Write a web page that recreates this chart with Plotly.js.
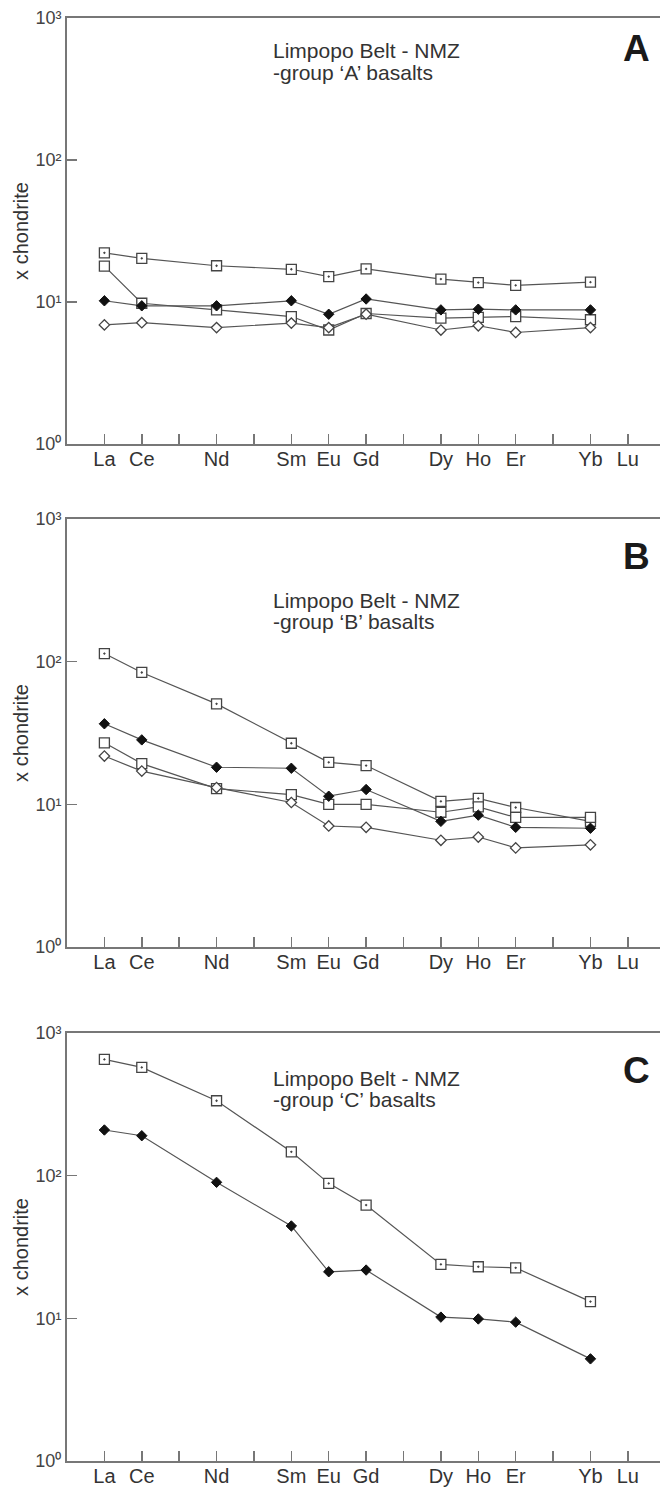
<!DOCTYPE html>
<html>
<head>
<meta charset="utf-8">
<script src="https://cdn.plot.ly/plotly-3.0.1.min.js"></script>
<style>html,body{margin:0;padding:0;background:#fff;}#chart{width:660px;height:1488px;}</style>
</head>
<body>
<div id="chart"></div>
<script>
// ---- DATA ----
const elements = ['La','Ce','Pr','Nd','Pm','Sm','Eu','Gd','Tb','Dy','Ho','Er','Tm','Yb','Lu'];
const labelled = ['La','Ce','Nd','Sm','Eu','Gd','Dy','Ho','Er','Yb','Lu'];
const measured = ['La','Ce','Nd','Sm','Eu','Gd','Dy','Ho','Er','Yb'];

// Panel A - group 'A' basalts
const aDotSquare     = [22.2, 20.3, 18.0, 17.0, 15.1, 17.1, 14.5, 13.7, 13.1, 13.8];
const aOpenSquare    = [17.9, 9.8, 8.8, 7.9, 6.35, 8.3, 7.7, 7.8, 7.9, 7.5];
const aFilledDiamond = [10.2, 9.4, 9.4, 10.2, 8.2, 10.5, 8.8, 8.9, 8.8, 8.8];
const aOpenDiamond   = [6.9, 7.15, 6.6, 7.1, 6.6, 8.2, 6.35, 6.8, 6.1, 6.6];

// Panel B - group 'B' basalts
const bDotSquare     = [114, 84, 50.6, 26.8, 19.7, 18.7, 10.5, 11.0, 9.5, 7.6];
const bOpenSquare    = [27.0, 19.3, 12.9, 11.7, 10.0, 10.0, 8.8, 9.6, 8.1, 8.1];
const bFilledDiamond = [36.7, 28.3, 18.2, 17.9, 11.4, 12.7, 7.6, 8.4, 6.9, 6.8];
const bOpenDiamond   = [21.8, 17.1, 13.1, 10.3, 7.05, 6.9, 5.6, 5.9, 4.95, 5.2];

// Panel C - group 'C' basalts
const cDotSquare     = [653, 574, 335, 147, 88.3, 62.2, 23.9, 23.0, 22.6, 13.1];
const cFilledDiamond = [209, 190.5, 89.8, 44.4, 21.2, 21.8, 10.2, 9.9, 9.4, 5.2];

const yTickVals = [1, 10, 100, 1000];
const yTickText = ['10\u2070', '10\u00B9', '10\u00B2', '10\u00B3'];
const panelTitles = [
  ['Limpopo Belt - NMZ', '-group \u2018A\u2019 basalts'],
  ['Limpopo Belt - NMZ', '-group \u2018B\u2019 basalts'],
  ['Limpopo Belt - NMZ', '-group \u2018C\u2019 basalts']
];
const panelLetters = ['A', 'B', 'C'];

// ---- STYLES ----
const FONT = 'Liberation Sans, Arial, Helvetica, sans-serif';
const LINE = {color: '#555', width: 1.2};
const styles = {
  dotSquare:     {symbol: 'square-dot', size: 10, color: '#fff', line: {color: '#444', width: 1.3}},
  openSquare:    {symbol: 'square', size: 10, color: '#fff', line: {color: '#444', width: 1.3}},
  openDiamond:   {symbol: 'diamond', size: 8, color: '#fff', line: {color: '#444', width: 1.3}},
  filledDiamond: {symbol: 'diamond', size: 8, color: '#111', line: {color: '#111', width: 1}}
};
const xIdx = measured.map(e => elements.indexOf(e));

function trace(vals, style, n) {
  return {
    type: 'scatter', mode: 'lines+markers',
    x: xIdx, y: vals,
    xaxis: n === 1 ? 'x' : 'x' + n, yaxis: n === 1 ? 'y' : 'y' + n,
    line: LINE, marker: styles[style], showlegend: false, hoverinfo: 'x+y'
  };
}

const data = [
  trace(aDotSquare, 'dotSquare', 1), trace(aOpenSquare, 'openSquare', 1),
  trace(aOpenDiamond, 'openDiamond', 1), trace(aFilledDiamond, 'filledDiamond', 1),
  trace(bDotSquare, 'dotSquare', 2), trace(bOpenSquare, 'openSquare', 2),
  trace(bOpenDiamond, 'openDiamond', 2), trace(bFilledDiamond, 'filledDiamond', 2),
  trace(cDotSquare, 'dotSquare', 3), trace(cFilledDiamond, 'filledDiamond', 3)
];

// ---- LAYOUT ----
const W = 660, H = 1488, ML = 67, MR = 0, MT = 18, MB = 27;
const PW = W - ML - MR, PH = H - MT - MB;
const px2x = p => (p - ML) / PW;
const py2y = p => (H - MB - p) / PH;
const panels = [[18, 444], [519, 947], [1033, 1461]]; // top/bottom pixel rows

function xaxis(n) {
  return {
    domain: [0, 1], anchor: n === 1 ? 'y' : 'y' + n,
    range: [-1, 14.86], tickmode: 'array',
    tickvals: labelled.map(e => elements.indexOf(e)), ticktext: labelled,
    ticks: 'inside', ticklen: 10, tickwidth: 1.5, tickcolor: '#777',
    minor: {tickmode: 'linear', tick0: 0, dtick: 1, ticks: 'inside', ticklen: 10, tickwidth: 1.5, tickcolor: '#777', showgrid: false},
    ticklabelstandoff: -4,
    showline: true, linecolor: '#777', linewidth: 2, mirror: true,
    showgrid: false, zeroline: false,
    tickfont: {family: FONT, size: 20, color: '#333'}
  };
}
function yaxis(n) {
  const p = panels[n - 1];
  return {
    type: 'log', range: [0, 3], domain: [py2y(p[1]), py2y(p[0])],
    anchor: n === 1 ? 'x' : 'x' + n,
    tickmode: 'array', tickvals: yTickVals, ticktext: yTickText,
    ticks: 'inside', ticklen: 10, tickwidth: 1.5, tickcolor: '#777',
    showline: true, linecolor: '#777', linewidth: 2,
    showgrid: false, zeroline: false,
    tickfont: {family: FONT, size: 18, color: '#444'},
    title: {text: 'x chondrite', font: {family: FONT, size: 20, color: '#333'}, standoff: 1}
  };
}

const annotations = [];
const titleRows = [[50, 72], [600, 621], [1078, 1099]];
const letterRows = [48, 556, 1070];
for (let i = 0; i < 3; i++) {
  for (let j = 0; j < 2; j++) {
    annotations.push({
      xref: 'paper', yref: 'paper', x: px2x(271), y: py2y(titleRows[i][j]),
      xanchor: 'left', yanchor: 'middle', showarrow: false,
      text: panelTitles[i][j], font: {family: FONT, size: 21, color: '#333'}
    });
  }
  annotations.push({
    xref: 'paper', yref: 'paper', x: px2x(636), y: py2y(letterRows[i]),
    xanchor: 'center', yanchor: 'middle', showarrow: false,
    text: '<b>' + panelLetters[i] + '</b>', font: {family: FONT, size: 37, color: '#1a1a1a'}
  });
}

const layout = {
  width: W, height: H, margin: {l: ML, r: MR, t: MT, b: MB},
  paper_bgcolor: '#fff', plot_bgcolor: '#fff',
  font: {family: FONT, color: '#333'},
  showlegend: false,
  xaxis: xaxis(1), xaxis2: xaxis(2), xaxis3: xaxis(3),
  yaxis: yaxis(1), yaxis2: yaxis(2), yaxis3: yaxis(3),
  annotations: annotations
};

Plotly.newPlot('chart', data, layout, {staticPlot: true, displayModeBar: false});
</script>
</body>
</html>
